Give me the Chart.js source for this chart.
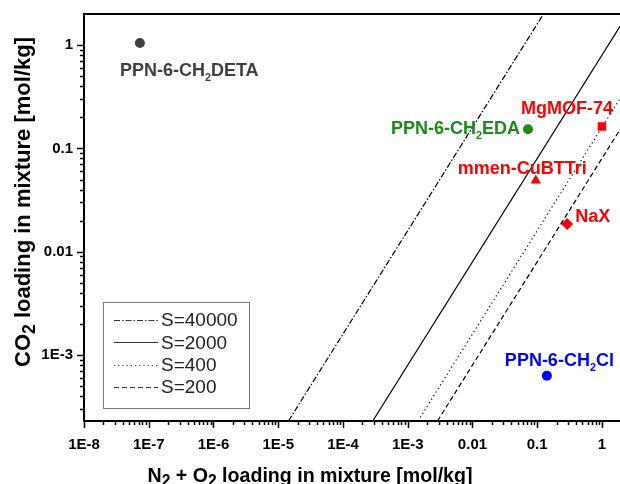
<!DOCTYPE html>
<html>
<head>
<meta charset="utf-8">
<script src="https://cdn.jsdelivr.net/npm/chart.js@4.4.0/dist/chart.umd.min.js"></script>
<style>
  html, body { margin: 0; padding: 0; background: #fff; }
</style>
</head>
<body>
<canvas id="chart" width="620" height="484"></canvas>
<script>
// Materials ("_2" marks a subscript 2)
const materials = ['PPN-6-CH_2DETA', 'PPN-6-CH_2EDA', 'MgMOF-74', 'mmen-CuBTTri', 'NaX', 'PPN-6-CH_2Cl'];
const n2o2Loading = [7.3e-8, 0.072, 1.0, 0.095, 0.29, 0.141];
const co2Loading = [1.05, 0.153, 0.163, 0.049, 0.0186, 6.3e-4];

// Selectivity lines, end points
const selLabels = ['S=40000', 'S=2000', 'S=400', 'S=200'];
const selX = [[1.44e-5, 0.125], [2.88e-4, 2.5], [1.44e-3, 2.0], [2.88e-3, 2.0]];
const selY = [[2.3e-4, 2.0], [2.3e-4, 2.0], [2.3e-4, 0.32], [2.3e-4, 0.16]];

// Axis ticks
const xTickValues = [1e-8, 1e-7, 1e-6, 1e-5, 1e-4, 1e-3, 0.01, 0.1, 1];
const xTickLabels = ['1E-8', '1E-7', '1E-6', '1E-5', '1E-4', '1E-3', '0.01', '0.1', '1'];
const yTickValues = [1e-3, 0.01, 0.1, 1];
const yTickLabels = ['1E-3', '0.01', '0.1', '1'];

const FONT = "'Liberation Sans', Arial, sans-serif";

// marker / label styles
const pointStyles = [
    { style: 'circle', r: 5, color: '#404040' },
    { style: 'circle', r: 5, color: '#1a8a1a' },
    { style: 'rect', r: 6, color: '#ff0000' },
    { style: 'triangle', r: 6, color: '#ff0000' },
    { style: 'rectRot', r: 6, color: '#ff0000' },
    { style: 'circle', r: 5, color: '#0000ff' },
];
// [dx, dy, align] of label baseline relative to the marker
const labelPos = [
    [-20, 33, 'left'],
    [-8, 5, 'right'],
    [-81, -12, 'left'],
    [-78, -6, 'left'],
    [8, -2, 'left'],
    [-42, -10, 'left'],
];
const lineDashes = [[6, 2, 1.5, 2], [], [1.2, 3], [5, 3]];

const datasets = [];
selLabels.forEach((lab, i) => {
    datasets.push({
        label: lab,
        data: selX[i].map((x, j) => ({ x: x, y: selY[i][j] })),
        showLine: true,
        borderColor: '#000',
        borderWidth: 1.2,
        borderDash: lineDashes[i],
        pointRadius: 0,
        isSel: true,
    });
});
materials.forEach((m, i) => {
    datasets.push({
        label: m,
        data: [{ x: n2o2Loading[i], y: co2Loading[i] }],
        showLine: false,
        pointStyle: pointStyles[i].style,
        pointRadius: pointStyles[i].r,
        backgroundColor: pointStyles[i].color,
        borderColor: pointStyles[i].color,
        borderWidth: 0,
        labelIndex: i,
    });
});

// text with "_2" style subscripts
function drawRich(ctx, text, x, y, size, align, subScale, subShift) {
    const parts = text.split(/_(\d)/);
    const widths = parts.map((p, k) => {
        ctx.font = 'bold ' + (k % 2 ? size * subScale : size) + 'px ' + FONT;
        return ctx.measureText(p).width;
    });
    const total = widths.reduce((a, b) => a + b, 0);
    let cx = align === 'center' ? x - total / 2 : align === 'right' ? x - total : x;
    ctx.textAlign = 'left';
    ctx.textBaseline = 'alphabetic';
    parts.forEach((p, k) => {
        ctx.font = 'bold ' + (k % 2 ? size * subScale : size) + 'px ' + FONT;
        ctx.fillText(p, cx, k % 2 ? y + subShift : y);
        cx += widths[k];
    });
}

const decorPlugin = {
    id: 'decor',
    afterDraw(chart) {
        const ctx = chart.ctx;
        const a = chart.chartArea;
        const xs = chart.scales.x;
        const ys = chart.scales.y;
        ctx.save();

        // frame
        ctx.strokeStyle = '#000';
        ctx.lineWidth = 2;
        ctx.beginPath();
        ctx.moveTo(a.right + 2, a.top);
        ctx.lineTo(a.left, a.top);
        ctx.lineTo(a.left, a.bottom);
        ctx.lineTo(a.right + 2, a.bottom);
        ctx.stroke();

        // tick marks, major and minor
        ctx.lineWidth = 1.5;
        ctx.beginPath();
        for (let e = Math.floor(Math.log10(xs.min)); e <= Math.floor(Math.log10(xs.max)); e++) {
            for (let k = 1; k <= 9; k++) {
                const v = k * Math.pow(10, e);
                if (v < xs.min * 0.999 || v > xs.max) continue;
                const px = Math.round(xs.getPixelForValue(v)) + 0.5;
                ctx.moveTo(px, a.bottom);
                ctx.lineTo(px, a.bottom + (k === 1 ? 7 : 4));
            }
        }
        for (let e = Math.floor(Math.log10(ys.min)); e <= Math.floor(Math.log10(ys.max)); e++) {
            for (let k = 1; k <= 9; k++) {
                const v = k * Math.pow(10, e);
                if (v < ys.min || v > ys.max * 0.999) continue;
                const py = Math.round(ys.getPixelForValue(v)) + 0.5;
                ctx.moveTo(a.left, py);
                ctx.lineTo(a.left - (k === 1 ? 7 : 4), py);
            }
        }
        ctx.stroke();

        // axis titles
        ctx.fillStyle = '#000';
        drawRich(ctx, 'N_2 + O_2 loading in mixture [mol/kg]', a.left + 226, 482, 19.6, 'center', 0.8, 4);
        ctx.save();
        ctx.translate(30, 202);
        ctx.rotate(-Math.PI / 2);
        drawRich(ctx, 'CO_2 loading in mixture [mol/kg]', 0, 0, 22, 'center', 0.8, 5);
        ctx.restore();

        // point labels
        chart.data.datasets.forEach((ds, di) => {
            if (ds.labelIndex === undefined) return;
            const el = chart.getDatasetMeta(di).data[0];
            const lp = labelPos[ds.labelIndex];
            ctx.fillStyle = pointStyles[ds.labelIndex].color;
            drawRich(ctx, ds.label, el.x + lp[0], el.y + lp[1], 18, lp[2], 0.6, 5);
        });

        // legend box
        const lx = a.left + 19, ly = a.top + 288;
        ctx.strokeStyle = '#777';
        ctx.lineWidth = 1;
        ctx.strokeRect(lx + 0.5, ly + 0.5, 146, 106);
        ctx.font = '19px ' + FONT;
        ctx.textAlign = 'left';
        ctx.textBaseline = 'middle';
        chart.data.datasets.forEach((ds, di) => {
            if (!ds.isSel) return;
            const ry = ly + 18 + di * 22.4;
            ctx.strokeStyle = '#333';
            ctx.lineWidth = 1.2;
            ctx.setLineDash(ds.borderDash);
            ctx.beginPath();
            ctx.moveTo(lx + 11, Math.round(ry) + 0.5);
            ctx.lineTo(lx + 55, Math.round(ry) + 0.5);
            ctx.stroke();
            ctx.setLineDash([]);
            ctx.fillStyle = '#222';
            ctx.fillText(ds.label, lx + 58, ry + 1);
        });
        ctx.restore();
    },
};

new Chart(document.getElementById('chart'), {
    type: 'scatter',
    data: { datasets: datasets },
    options: {
        responsive: false,
        animation: false,
        layout: { autoPadding: false, padding: { top: 14, right: 0, left: 0, bottom: 0 } },
        plugins: {
            legend: { display: false },
            tooltip: { enabled: false },
        },
        scales: {
            x: {
                type: 'logarithmic',
                min: 1e-8,
                max: 1.9,
                afterBuildTicks: s => { s.ticks = xTickValues.map(v => ({ value: v })); },
                afterFit: s => { s.height = 63; s.paddingLeft = 0; s.paddingRight = 0; },
                grid: { display: false, drawTicks: false },
                border: { display: false },
                ticks: {
                    autoSkip: false,
                    maxRotation: 0,
                    padding: 15,
                    color: '#000',
                    font: { family: FONT, size: 15, weight: 'bold' },
                    callback: (v, i) => xTickLabels[i],
                },
            },
            y: {
                type: 'logarithmic',
                min: 2.3e-4,
                max: 2,
                afterBuildTicks: s => { s.ticks = yTickValues.map(v => ({ value: v })); },
                afterFit: s => { s.width = 84; s.paddingTop = 0; s.paddingBottom = 0; },
                grid: { display: false, drawTicks: false },
                border: { display: false },
                ticks: {
                    autoSkip: false,
                    padding: 11,
                    color: '#000',
                    font: { family: FONT, size: 15, weight: 'bold' },
                    callback: (v, i) => yTickLabels[i],
                },
            },
        },
    },
    plugins: [decorPlugin],
});
</script>
</body>
</html>
